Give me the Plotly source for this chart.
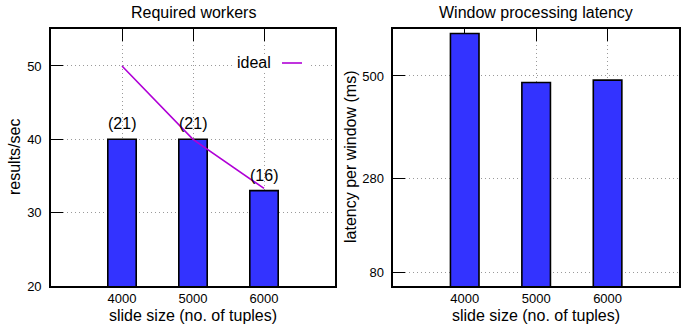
import plotly.graph_objects as go

# Slide sizes (no. of tuples) shared by both panels
slide_sizes = [4000, 5000, 6000]

# Left panel: throughput and worker counts
throughput = [40, 40, 33]
workers = [21, 21, 16]
ideal_throughput = [50, 40, 33.3]

# Right panel: latency per window (ms)
latency_ms = [591, 486, 491]

throughput_ticks = [20, 30, 40, 50]
latency_ticks = [80, 280, 500]

W, H = 688, 324
FONT = "Liberation Sans, Arial, Helvetica, sans-serif"
BAR_BLUE = "#3333ff"
IDEAL = "#b000d6"


def px_x(p):
    return p / W


def px_y(p):
    return 1 - p / H


fig = go.Figure()

fig.add_trace(go.Bar(
    x=slide_sizes, y=throughput, width=400,
    marker=dict(color=BAR_BLUE, line=dict(color="black", width=1.6)),
    xaxis="x", yaxis="y", showlegend=False,
))
fig.add_trace(go.Scatter(
    x=slide_sizes, y=ideal_throughput, mode="lines", name="ideal",
    line=dict(color=IDEAL, width=1.6),
    xaxis="x", yaxis="y", showlegend=False,
))
fig.add_trace(go.Bar(
    x=slide_sizes, y=latency_ms, width=400,
    marker=dict(color=BAR_BLUE, line=dict(color="black", width=1.6)),
    xaxis="x2", yaxis="y2", showlegend=False,
))

xcommon = dict(
    range=[3000, 7000], tickvals=slide_sizes, ticktext=[str(s) for s in slide_sizes],
    ticks="inside", ticklen=12, tickwidth=1, tickcolor="black",
    showline=True, linecolor="black", linewidth=1.6, mirror="ticks",
    showgrid=True, gridcolor="#9a9a9a", griddash="1px,3px", gridwidth=1,
    zeroline=False, layer="below traces", automargin=False,
    ticklabelstandoff=0,
    tickfont=dict(family=FONT, size=13, color="black"),
)
ycommon = dict(
    ticks="inside", ticklen=12, tickwidth=1, tickcolor="black",
    showline=True, linecolor="black", linewidth=1.6, mirror=True,
    showgrid=True, gridcolor="#9a9a9a", griddash="1px,3px", gridwidth=1,
    zeroline=False, layer="below traces", automargin=False,
    ticklabelstandoff=5,
    tickfont=dict(family=FONT, size=13, color="black"),
)

fig.update_layout(
    width=W, height=H,
    margin=dict(l=0, r=0, t=0, b=0, autoexpand=False),
    paper_bgcolor="white", plot_bgcolor="white",
    font=dict(family=FONT, color="black"),
    showlegend=False,
    xaxis=dict(domain=[px_x(51), px_x(335)], anchor="y", **xcommon),
    yaxis=dict(domain=[px_y(286), px_y(29.3)], anchor="x", range=[20, 55],
               tickvals=throughput_ticks, **ycommon),
    xaxis2=dict(domain=[px_x(393.3), px_x(679)], anchor="y2", **xcommon),
    yaxis2=dict(domain=[px_y(286), px_y(29.3)], anchor="x2", range=[50, 600],
                tickvals=latency_ticks, **ycommon),
)

TXT = dict(family=FONT, size=16, color="black")


def label(px, py, text, angle=0, xanchor="center"):
    return dict(x=px_x(px), y=px_y(py), xref="paper", yref="paper", text=text,
                showarrow=False, textangle=angle, xanchor=xanchor, yanchor="middle",
                font=TXT)


annotations = []
# worker counts above the throughput bars
for s, t, w in zip(slide_sizes, throughput, workers):
    annotations.append(dict(
        x=s, y=t, xref="x", yref="y", text=f"({w})", showarrow=False,
        xanchor="center", yanchor="bottom", yshift=5, font=TXT,
    ))

# panel titles
annotations.append(label(193, 13, "Required workers"))
annotations.append(label(536, 13, "Window processing latency"))
# x axis titles
annotations.append(label(193, 315, "slide size (no. of tuples)"))
annotations.append(label(536, 315, "slide size (no. of tuples)"))
# y axis titles
annotations.append(label(15, 157, "results/sec", angle=-90))
annotations.append(label(351, 157, "latency per window (ms)", angle=-90))
# key for the ideal curve
annotations.append(label(273, 63, "ideal", xanchor="right"))

shapes = [
    dict(type="rect", xref="paper", yref="paper", layer="above",
         x0=px_x(232), x1=px_x(310), y0=px_y(71), y1=px_y(55),
         fillcolor="white", line=dict(width=0)),
    dict(type="line", xref="paper", yref="paper", layer="above",
         x0=px_x(282), x1=px_x(302), y0=px_y(63), y1=px_y(63),
         line=dict(color=IDEAL, width=1.6)),
]

fig.update_layout(annotations=annotations, shapes=shapes)

fig.write_html("out.html")
